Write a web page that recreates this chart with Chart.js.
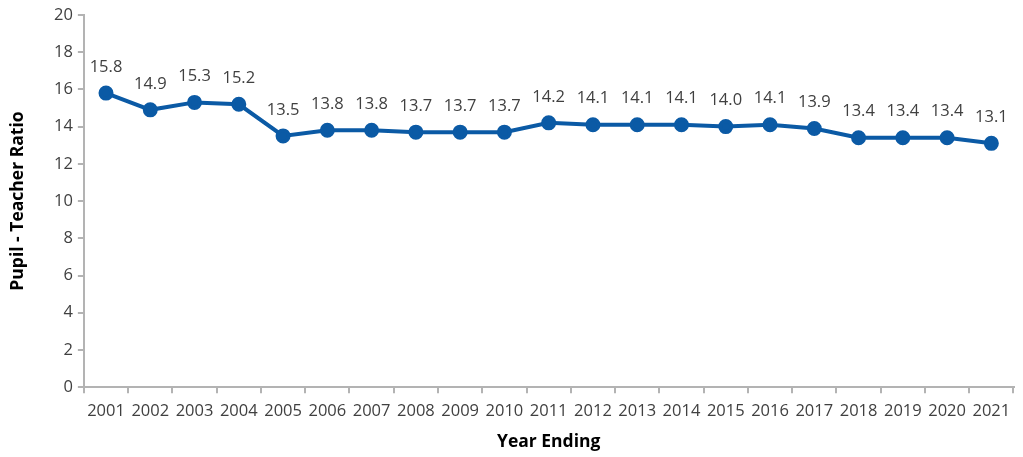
<!DOCTYPE html>
<html>
<head>
<meta charset="utf-8">
<script src="https://cdn.jsdelivr.net/npm/chart.js@4/dist/chart.umd.min.js"></script>
<style>
  html, body { margin: 0; padding: 0; background: #fff; }
  #wrap { width: 1023px; height: 457px; }
</style>
</head>
<body>
<div id="wrap"><canvas id="myChart"></canvas></div>
<script>
const years = ['2001','2002','2003','2004','2005','2006','2007','2008','2009','2010',
               '2011','2012','2013','2014','2015','2016','2017','2018','2019','2020','2021'];
const ratios = [15.8, 14.9, 15.3, 15.2, 13.5, 13.8, 13.8, 13.7, 13.7, 13.7,
                14.2, 14.1, 14.1, 14.1, 14.0, 14.1, 13.9, 13.4, 13.4, 13.4, 13.1];
const yTicks = [0, 2, 4, 6, 8, 10, 12, 14, 16, 18, 20];

const textColor = '#404040';
const axisColor = '#b3b3b3';
const lineColor = '#0b5aa5';

// draws the value above each point
const valueLabels = {
    id: 'valueLabels',
    afterDatasetsDraw(chart) {
        const ctx = chart.ctx;
        const meta = chart.getDatasetMeta(0);
        ctx.save();
        ctx.font = '16.5px "Open Sans", sans-serif';
        ctx.fillStyle = textColor;
        ctx.textAlign = 'center';
        ctx.textBaseline = 'middle';
        meta.data.forEach((pt, i) => {
            ctx.fillText(ratios[i].toFixed(1), pt.x, pt.y - 26);
        });
        ctx.restore();
    }
};

function createChart() {
    const ctx = document.getElementById('myChart');

    const config = {
        type: 'line',
        data: {
            labels: years,
            datasets: [{
                data: ratios,
                borderColor: lineColor,
                backgroundColor: lineColor,
                borderWidth: 4,
                pointRadius: 5.5,
                pointHoverRadius: 5.5,
                tension: 0
            }]
        },
        options: {
            responsive: true,
            maintainAspectRatio: false,
            animation: false,
            layout: {
                padding: { left: 8, right: 1, top: 4, bottom: 4 }
            },
            plugins: {
                legend: { display: false },
                tooltip: { enabled: false }
            },
            scales: {
                x: {
                    offset: true,
                    grid: {
                        offset: true,
                        drawOnChartArea: false,
                        color: axisColor,
                        tickLength: 6,
                        lineWidth: 2
                    },
                    border: { color: axisColor, width: 2 },
                    ticks: {
                        color: textColor,
                        font: { family: 'Open Sans', size: 16.5 },
                        maxRotation: 0,
                        autoSkip: false,
                        padding: 8
                    },
                    title: {
                        display: true,
                        text: 'Year Ending',
                        color: '#000',
                        font: { family: 'Open Sans', size: 17.5, weight: 'bold' },
                        padding: { top: 3, bottom: 0 }
                    }
                },
                y: {
                    min: 0,
                    max: 20,
                    afterBuildTicks: axis => {
                        axis.ticks = yTicks.map(v => ({ value: v }));
                    },
                    grid: {
                        drawOnChartArea: false,
                        color: axisColor,
                        tickLength: 6,
                        lineWidth: 2
                    },
                    border: { color: axisColor, width: 2 },
                    ticks: {
                        color: textColor,
                        font: { family: 'Open Sans', size: 16.5 },
                        padding: 5
                    },
                    title: {
                        display: true,
                        text: 'Pupil - Teacher Ratio',
                        color: '#000',
                        font: { family: 'Open Sans', size: 17.5, weight: 'bold' },
                        padding: { top: 0, bottom: 20 }
                    }
                }
            }
        },
        plugins: [valueLabels]
    };

    return new Chart(ctx, config);
}

const chart = createChart();
</script>
</body>
</html>
